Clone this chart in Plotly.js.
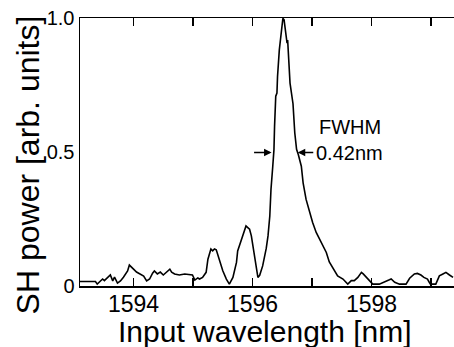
<!DOCTYPE html>
<html>
<head>
<meta charset="utf-8">
<script src="https://cdn.plot.ly/plotly-3.0.1.min.js"></script>
<style>html,body{margin:0;padding:0;background:#fff;}#chart{width:454px;height:347px;}</style>
</head>
<body>
<div id="chart"></div>
<script>
// Input wavelength [nm]
var wavelength = [
1593.09,1593.36,1593.39,1593.45,1593.48,1593.51,1593.56,1593.61,1593.65,1593.68,
1593.73,1593.78,1593.83,1593.90,1593.93,1593.97,1594.00,1594.05,1594.10,1594.17,
1594.22,1594.27,1594.32,1594.35,1594.40,1594.45,1594.50,1594.55,1594.61,1594.64,
1594.69,1594.77,1594.86,1594.99,1595.03,1595.08,1595.11,1595.16,1595.22,1595.25,
1595.28,1595.30,1595.33,1595.36,1595.39,1595.42,1595.45,1595.50,1595.56,1595.61,
1595.67,1595.73,1595.75,1595.78,1595.81,1595.84,1595.87,1595.89,1595.92,1595.95,
1595.98,1596.00,1596.03,1596.06,1596.09,1596.12,1596.17,1596.23,1596.26,1596.29,
1596.31,1596.34,1596.36,1596.37,1596.39,1596.41,1596.42,1596.45,1596.48,1596.51,
1596.53,1596.55,1596.57,1596.58,1596.59,1596.61,1596.63,1596.68,1596.71,1596.74,
1596.77,1596.82,1596.85,1596.90,1596.96,1597.01,1597.07,1597.13,1597.18,1597.24,
1597.29,1597.35,1597.38,1597.43,1597.52,1597.60,1597.66,1597.71,1597.77,1597.83,
1597.86,1597.91,1597.97,1598.02,1598.13,1598.22,1598.30,1598.33,1598.39,1598.47,
1598.58,1598.64,1598.72,1598.77,1598.83,1598.88,1598.94,1598.97,1598.99,1599.08,
1599.14,1599.20,1599.25,1599.31,1599.37
];
// SH power [arb. units]
var shPower = [
0.017,0.017,0.007,0.019,0.026,0.020,0.030,0.041,0.019,0.033,
0.011,0.019,0.033,0.056,0.078,0.071,0.063,0.052,0.045,0.037,
0.019,0.026,0.048,0.056,0.045,0.052,0.041,0.052,0.063,0.052,
0.045,0.041,0.045,0.041,0.022,0.030,0.026,0.032,0.051,0.100,
0.119,0.138,0.131,0.138,0.135,0.113,0.094,0.057,0.026,0.007,
0.032,0.088,0.131,0.150,0.175,0.193,0.212,0.224,0.218,0.212,
0.187,0.156,0.113,0.063,0.032,0.040,0.075,0.140,0.187,0.261,
0.361,0.447,0.509,0.596,0.708,0.720,0.782,0.881,0.955,0.999,
0.993,0.955,0.925,0.906,0.918,0.856,0.757,0.680,0.571,0.510,
0.490,0.447,0.385,0.323,0.274,0.237,0.200,0.175,0.150,0.125,
0.090,0.068,0.057,0.038,0.026,0.007,0.020,0.020,0.032,0.051,
0.045,0.032,0.020,0.007,0.007,0.014,0.023,0.026,0.014,0.007,
0.007,0.029,0.045,0.047,0.041,0.032,0.026,0.014,0.007,0.007,
0.038,0.045,0.051,0.041,0.032
];
var xTickVals = [1594,1595,1596,1597,1598,1599];
var xTickText = ['1594','','1596','','1598',''];
var yTickVals = [0,0.5,1];
var yTickText = ['0','0.5','1.0'];
var xTitle = 'Input wavelength [nm]';
var yTitle = 'SH power [arb. units]';
var fwhmLeft = 1596.32, fwhmRight = 1596.76, fwhmLevel = 0.498;

var font = 'Liberation Sans, Arial, Helvetica, sans-serif';
var trace = {
  x: wavelength, y: shPower, type: 'scatter', mode: 'lines',
  line: {color: '#000', width: 1.6}, hoverinfo: 'skip'
};
var layout = {
  width: 454, height: 347,
  margin: {l: 80, r: 0, t: 18, b: 61},
  paper_bgcolor: '#fff', plot_bgcolor: '#fff',
  showlegend: false,
  font: {family: font, color: '#000'},
  xaxis: {
    range: [1593.1, 1599.386], tickvals: xTickVals, ticktext: xTickText,
    ticks: 'inside', ticklen: 8, tickwidth: 1.2, tickcolor: '#000',
    showline: true, linecolor: '#000', linewidth: 1.5, mirror: 'ticks',
    showgrid: false, zeroline: false, ticklabelstandoff: -3,
    tickfont: {family: font, size: 23, color: '#000'}
  },
  yaxis: {
    range: [0, 1], tickvals: yTickVals, ticktext: yTickText,
    ticks: '', showline: true, linecolor: '#000', linewidth: 1.5, mirror: false,
    showgrid: false, zeroline: false,
    tickfont: {family: font, size: 20, color: '#000'}
  },
  annotations: [
    {xref: 'paper', yref: 'paper', x: 0.495, y: -0.168, text: xTitle,
     showarrow: false, xanchor: 'center', yanchor: 'middle', font: {family: font, size: 30, color: '#000'}},
    {xref: 'paper', yref: 'paper', x: -0.139, y: 0.45, text: yTitle, textangle: -90,
     showarrow: false, xanchor: 'center', yanchor: 'middle', font: {family: font, size: 32, color: '#000'}},
    {x: 1597.63, y: 0.595, text: 'FWHM', showarrow: false, xanchor: 'center', yanchor: 'middle',
     font: {family: font, size: 20, color: '#000'}},
    {x: 1597.63, y: 0.495, text: '0.42nm', showarrow: false, xanchor: 'center', yanchor: 'middle',
     font: {family: font, size: 20, color: '#000'}},
    {x: fwhmLeft, y: fwhmLevel, ax: -19, ay: 0, text: '', showarrow: true, arrowhead: 2, arrowsize: 1, arrowwidth: 1.5, arrowcolor: '#000'},
    {x: fwhmRight, y: fwhmLevel, ax: 17, ay: 0, text: '', showarrow: true, arrowhead: 2, arrowsize: 1, arrowwidth: 1.5, arrowcolor: '#000'}
  ]
};
Plotly.newPlot('chart', [trace], layout, {displayModeBar: false, staticPlot: true});
</script>
</body>
</html>
